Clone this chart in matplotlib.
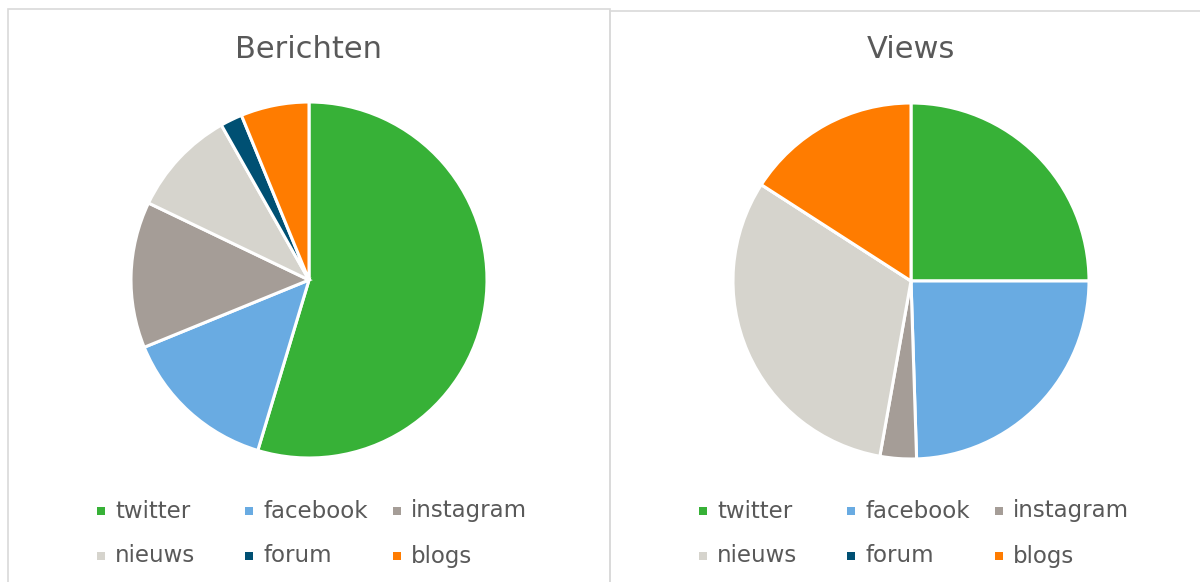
import matplotlib
matplotlib.use("Agg")
import matplotlib.pyplot as plt
from matplotlib.patches import Rectangle

# Data (percent shares)
labels = ["twitter", "facebook", "instagram", "nieuws", "forum", "blogs"]
berichten = [54.7, 14.2, 13.3, 9.7, 2.0, 6.2]
views = [25.0, 24.5, 3.3, 31.3, 0.0, 15.9]
titles = ["Berichten", "Views"]
colors = ["#37B137", "#69ABE2", "#A59D97", "#D6D4CD", "#005073", "#FF7C00"]

W, H = 1200, 582
fig = plt.figure(figsize=(W / 100, H / 100), dpi=100)
fig.patch.set_facecolor("white")


def px(x, y):
    """pixel coords (top-left origin) -> figure fraction"""
    return x / W, 1 - y / H


# Panel borders
for x0, x1, y0 in [(8, 610, 9), (610, 1210, 11)]:
    fx, fy = px(x0, y0)
    fx1, _ = px(x1, 0)
    fig.patches.append(Rectangle((fx, -0.05), fx1 - fx, fy + 0.05,
                                 transform=fig.transFigure, fill=False,
                                 edgecolor="#D9D9D9", linewidth=1.2))

panels = [
    {"cx": 309, "cy": 280, "r": 178, "values": berichten, "title": titles[0], "leg_x": 101},
    {"cx": 911, "cy": 281, "r": 178, "values": views, "title": titles[1], "leg_x": 703},
]

for p in panels:
    l, b = px(p["cx"] - p["r"], p["cy"] + p["r"])
    ax = fig.add_axes([l, b, 2 * p["r"] / W, 2 * p["r"] / H])
    ax.pie(p["values"], colors=colors, startangle=90, counterclock=False,
           radius=1, wedgeprops=dict(edgecolor="white", linewidth=2.2))
    ax.set_xlim(-1.0, 1.0)
    ax.set_ylim(-1.0, 1.0)
    ax.set_aspect("auto")
    ax.axis("off")

    tx, ty = px(p["cx"], 50)
    fig.text(tx, ty, p["title"], ha="center", va="center",
             fontsize=22, color="#595959")

    # Legend, 3 columns x 2 rows
    for i, (lab, col) in enumerate(zip(labels, colors)):
        mx = p["leg_x"] + (i % 3) * 148
        my = 511 + (i // 3) * 45
        sx, sy = px(mx - 4, my + 4)
        fig.patches.append(Rectangle((sx, sy), 8 / W, 8 / H,
                                     transform=fig.transFigure,
                                     facecolor=col, edgecolor="none"))
        lx, ly = px(mx + 14, my)
        fig.text(lx, ly, lab, ha="left", va="center",
                 fontsize=16.5, color="#595959")

fig.savefig("out.png", dpi=100)
